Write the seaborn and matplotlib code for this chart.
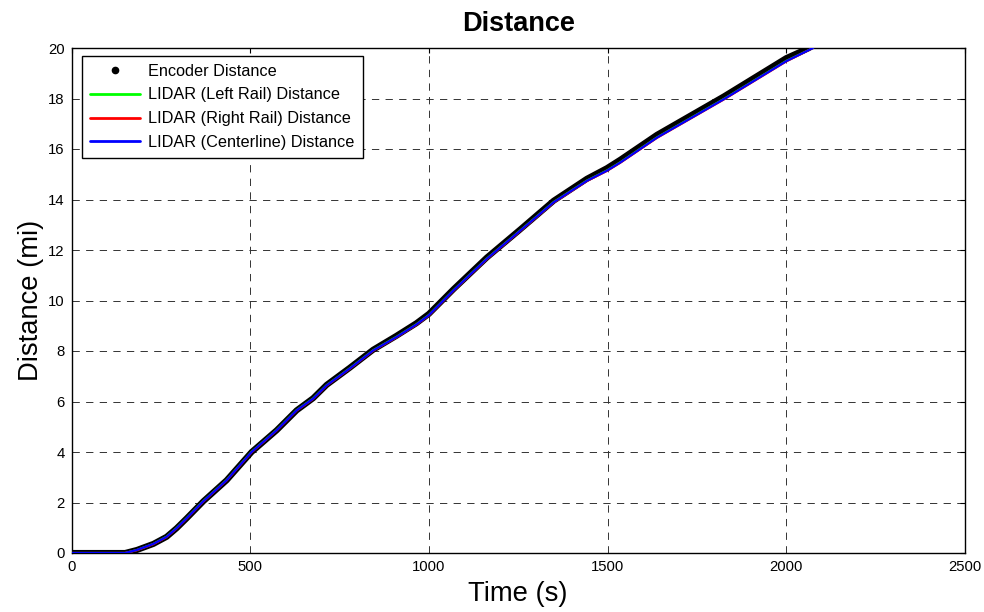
import matplotlib
matplotlib.use("Agg")
import matplotlib.pyplot as plt
from matplotlib.lines import Line2D
import seaborn as sns
import pandas as pd

# Wheel encoder odometry (time in s, distance in miles)
enc_time = [0, 50, 100, 150, 183, 229, 266, 294, 322, 369, 434, 504, 574, 630,
            676, 714, 778, 844, 909, 965, 1000, 1069, 1162, 1256, 1349, 1442,
            1498, 1536, 1638, 1825, 2000, 2063]
enc_dist = [0, 0, 0, 0, 0.12, 0.36, 0.64, 0.98, 1.37, 2.05, 2.88, 4.0, 4.86, 5.65,
            6.13, 6.66, 7.33, 8.05, 8.6, 9.1, 9.47, 10.45, 11.7, 12.82, 13.95, 14.82,
            15.24, 15.58, 16.56, 18.08, 19.6, 20.0]

# LIDAR-derived distance estimates
lidar_time = [0, 50, 100, 150, 183, 229, 266, 294, 322, 369, 434, 504, 574, 630,
              676, 714, 778, 844, 909, 965, 1000, 1069, 1162, 1256, 1349, 1442,
              1498, 1536, 1638, 1825, 2000, 2075]
left_rail = [0, 0, 0, 0, 0.12, 0.36, 0.65, 0.99, 1.38, 2.06, 2.89, 4.01, 4.87, 5.66,
             6.12, 6.65, 7.31, 8.03, 8.56, 9.06, 9.43, 10.41, 11.66, 12.78, 13.9, 14.75,
             15.15, 15.48, 16.46, 17.98, 19.49, 20.0]
right_rail = [0, 0, 0, 0, 0.11, 0.35, 0.63, 0.97, 1.36, 2.04, 2.87, 3.99, 4.85, 5.64,
              6.1, 6.63, 7.29, 8.01, 8.54, 9.04, 9.41, 10.39, 11.64, 12.76, 13.88, 14.73,
              15.13, 15.46, 16.44, 17.96, 19.47, 20.0]
centerline = [0, 0, 0, 0, 0.12, 0.36, 0.64, 0.98, 1.37, 2.05, 2.88, 4.0, 4.86, 5.65,
              6.11, 6.64, 7.3, 8.02, 8.55, 9.05, 9.42, 10.4, 11.65, 12.77, 13.89, 14.74,
              15.14, 15.47, 16.45, 17.97, 19.48, 20.0]

x_ticks = [0, 500, 1000, 1500, 2000, 2500]
y_ticks = [0, 2, 4, 6, 8, 10, 12, 14, 16, 18, 20]

sns.set_style("white")
plt.rcParams["font.family"] = ["Liberation Sans", "DejaVu Sans"]
plt.rcParams["text.color"] = "black"
plt.rcParams["axes.labelcolor"] = "black"
plt.rcParams["xtick.color"] = "black"
plt.rcParams["ytick.color"] = "black"

enc_df = pd.DataFrame({"t": enc_time, "d": enc_dist})
lidar_df = pd.DataFrame({"t": lidar_time, "left": left_rail,
                         "right": right_rail, "center": centerline})

fig = plt.figure(figsize=(9.84, 6.12), dpi=100)
ax = fig.add_axes([71.5 / 984, 59 / 612, (965 - 71.5) / 984, (553 - 48) / 612])

ax.grid(True, color="#333333", linewidth=0.7, linestyle=(0, (7.5, 6.5)))
ax.set_axisbelow(True)

sns.lineplot(data=enc_df, x="t", y="d", ax=ax, color="black", linewidth=4.4,
             solid_capstyle="round", solid_joinstyle="round", zorder=3)
sns.lineplot(data=lidar_df, x="t", y="left", ax=ax, color="#00ff00", linewidth=1.6, zorder=4)
sns.lineplot(data=lidar_df, x="t", y="right", ax=ax, color="#ff0000", linewidth=1.6, zorder=5)
sns.lineplot(data=lidar_df, x="t", y="center", ax=ax, color="#0000ff", linewidth=1.6,
             solid_joinstyle="round", zorder=6)

ax.set_xlim(0, 2500)
ax.set_ylim(0, 20)
ax.set_xticks(x_ticks)
ax.set_yticks(y_ticks)
ax.tick_params(direction="in", length=3.6, width=0.8, top=True, right=True,
               labelsize=10.7, pad=5, colors="black")
for sp in ax.spines.values():
    sp.set_color("black")
    sp.set_linewidth(1.0)

ax.set_title("Distance", fontsize=19.5, fontweight="bold", pad=12, color="black")
ax.set_xlabel("Time (s)", fontsize=19.7, labelpad=5)
ax.set_ylabel("Distance (mi)", fontsize=19.7, labelpad=3)

handles = [
    Line2D([], [], color="black", marker=".", linestyle="none", markersize=9),
    Line2D([], [], color="#00ff00", linewidth=2),
    Line2D([], [], color="#ff0000", linewidth=2),
    Line2D([], [], color="#0000ff", linewidth=2),
]
labels = ["Encoder Distance", "LIDAR (Left Rail) Distance",
          "LIDAR (Right Rail) Distance", "LIDAR (Centerline) Distance"]
leg = ax.legend(handles, labels, loc="upper left",
                bbox_to_anchor=(81.7 / 984, 1 - 55.7 / 612),
                bbox_transform=fig.transFigure, borderaxespad=0,
                fontsize=11.7, frameon=True, fancybox=False, framealpha=1,
                edgecolor="black", borderpad=0.49, labelspacing=0.54,
                handlelength=3.1, handletextpad=0.5, numpoints=1)
leg.get_frame().set_linewidth(1.0)
for txt in leg.get_texts():
    txt.set_color("black")

fig.savefig("out.png", dpi=100)
